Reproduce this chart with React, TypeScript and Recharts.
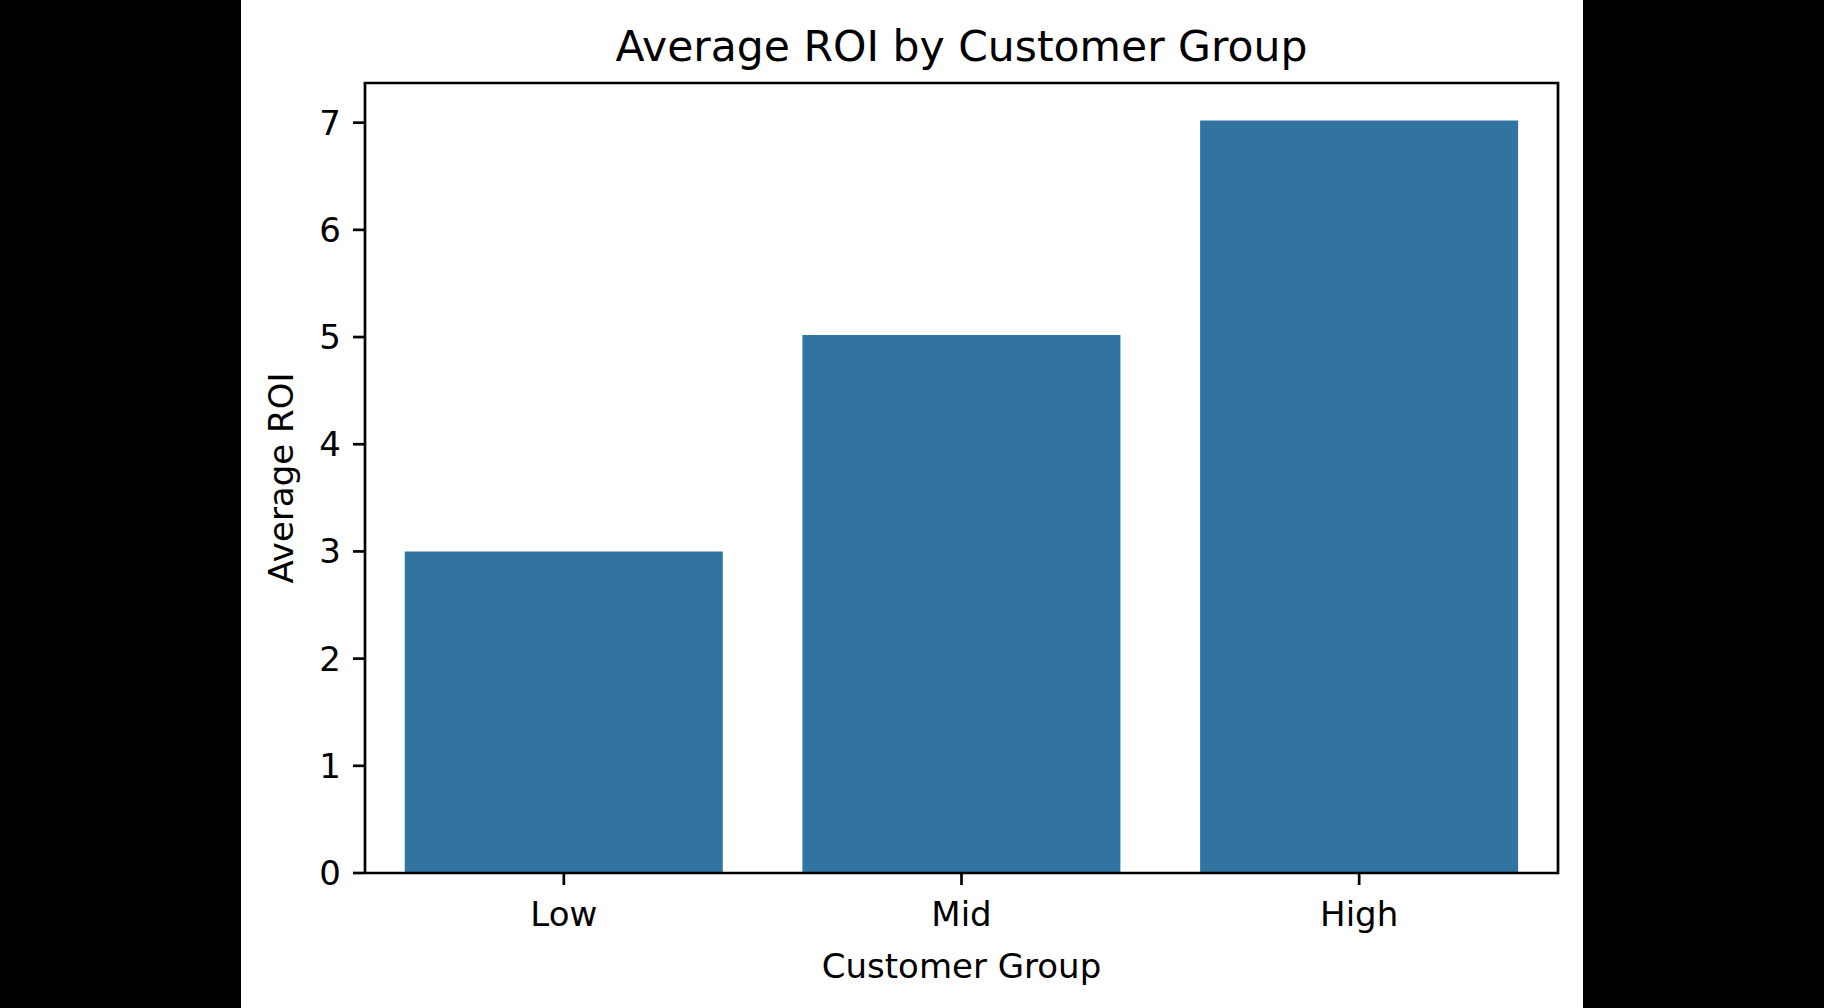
import React from 'react';
import * as R from 'recharts';
import { BarChart, Bar, XAxis, YAxis, Label } from 'recharts';

const groups = ['Low', 'Mid', 'High'];
const avgRoi = [3.0, 5.02, 7.02];
const yTicks = [0, 1, 2, 3, 4, 5, 6, 7];

const data = groups.map((g, i) => ({ group: g, roi: avgRoi[i] }));

const FONT = '"DejaVu Sans", sans-serif';
const BLUE = '#3274a1';
const LINE = { stroke: '#000', strokeWidth: 2.7 };

// top and right spines, drawn around the plot area
function Frame() {
  const usePlotArea = (R as any).usePlotArea;
  const area = usePlotArea ? usePlotArea() : null;
  if (!area) return null;
  const { x, y, width, height } = area;
  return (
    <path
      d={`M${x},${y} L${x + width},${y} L${x + width},${y + height}`}
      fill="none"
      stroke="#000"
      strokeWidth={2.7}
      strokeLinecap="square"
    />
  );
}

export default function App() {
  return (
    <div
      style={{
        position: 'fixed',
        left: 0,
        top: 0,
        width: 1824,
        height: 1008,
        background: '#000',
      }}
    >
      <div
        style={{
          position: 'absolute',
          left: 241,
          top: 0,
          width: 1342,
          height: 1008,
          background: '#fff',
        }}
      >
        <BarChart
          width={1342}
          height={1008}
          data={data}
          margin={{ top: 83, right: 25, bottom: 15, left: 44 }}
          barCategoryGap="10%"
          style={{ fontFamily: FONT }}
        >
          <text
            x={720.5}
            y={61}
            textAnchor="middle"
            fontSize={42.5}
            fontFamily={FONT}
            fill="#000"
          >
            Average ROI by Customer Group
          </text>
          <XAxis
            dataKey="group"
            height={120}
            axisLine={LINE}
            tickLine={LINE}
            tickSize={12}
            tickMargin={17}
            tick={{ fontSize: 34, fill: '#000', fontFamily: FONT }}
          >
            <Label
              content={({ viewBox }: any) => (
                <text
                  x={viewBox.x + viewBox.width / 2}
                  y={978}
                  textAnchor="middle"
                  fontSize={34}
                  fontFamily={FONT}
                  fill="#000"
                >
                  Customer Group
                </text>
              )}
            />
          </XAxis>
          <YAxis
            width={80}
            domain={[0, 7.37]}
            ticks={yTicks}
            allowDataOverflow
            axisLine={LINE}
            tickLine={LINE}
            tickSize={12}
            tickMargin={12}
            tick={{ fontSize: 34, fill: '#000', fontFamily: FONT }}
          >
            <Label
              content={({ viewBox }: any) => {
                const cx = 52;
                const cy = viewBox.y + viewBox.height / 2;
                return (
                  <text
                    x={cx}
                    y={cy}
                    transform={`rotate(-90, ${cx}, ${cy})`}
                    textAnchor="middle"
                    fontSize={34}
                    fontFamily={FONT}
                    fill="#000"
                  >
                    Average ROI
                  </text>
                );
              }}
            />
          </YAxis>
          <Bar dataKey="roi" fill={BLUE} isAnimationActive={false} />
          <Frame />
        </BarChart>
      </div>
    </div>
  );
}
